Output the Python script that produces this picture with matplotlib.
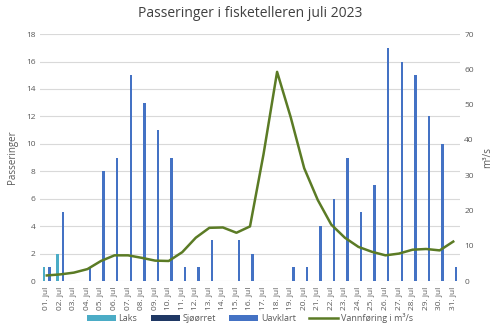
import matplotlib
matplotlib.use("Agg")
import matplotlib.pyplot as plt
import numpy as np

days = [f"{d:02d}. jul" for d in range(1, 32)]
laks = [1, 2] + [0] * 29
sjoorret = [0] * 31
uavklart = [1, 5, 0, 1, 8, 9, 15, 13, 11, 9, 1, 1, 3, 0, 3, 2, 0, 0, 1, 1,
            4, 6, 9, 5, 7, 17, 16, 15, 12, 10, 1]
vannforing = [1.6, 1.9, 2.4, 3.4, 5.7, 7.3, 7.3, 6.6, 5.8, 5.7, 8.2, 12.3,
              15.1, 15.2, 13.7, 15.5, 36.0, 59.3, 46.5, 32.0, 23.0, 16.0,
              12.3, 9.7, 8.3, 7.3, 7.8, 8.9, 9.1, 8.7, 11.2]

plt.rcParams['font.family'] = ['Open Sans', 'DejaVu Sans']
fig = plt.figure(figsize=(5.0, 3.28), dpi=100)
ax = fig.add_axes([0.08, 0.143, 0.84, 0.753])
ax2 = ax.twinx()

x = np.arange(1, 32)
w = 0.18
c_laks = '#4BACC6'
c_sjo = '#1F3864'
c_uav = '#4472C4'
c_line = '#5B7B25'
ax.bar(x - 0.2, laks, w, color=c_laks, label='Laks', zorder=3)
ax.bar(x, sjoorret, w, color=c_sjo, label='Sjøørret', zorder=3)
ax.bar(x + 0.2, uavklart, w, color=c_uav, label='Uavklart', zorder=3)
ax2.plot(x, vannforing, color=c_line, lw=1.8, label='Vannføring i m³/s', zorder=4)

ax.set_xlim(0.5, 31.5)
ax.set_ylim(0, 18)
ax.set_yticks(range(0, 19, 2))
ax2.set_ylim(0, 70)
ax2.set_yticks(range(0, 71, 10))
ax.set_xticks(x)
ax.set_xticklabels(days, rotation=90)
ax.grid(axis='y', color='#D9D9D9', lw=0.8, zorder=0)
for a in (ax, ax2):
    for s in a.spines.values():
        s.set_visible(False)
    a.tick_params(length=0, labelsize=6, labelcolor='#595959', pad=3)
ax.tick_params(axis='x', pad=4)
ax.set_ylabel('Passeringer', fontsize=7, color='#595959', labelpad=6)
ax2.set_ylabel('m³/s', fontsize=7, color='#595959', labelpad=6)
ax.set_title('Passeringer i fisketelleren juli 2023', fontsize=10, color='#404040', pad=12)

h1, l1 = ax.get_legend_handles_labels()
h2, l2 = ax2.get_legend_handles_labels()
fig.legend(h1 + h2, l1 + l2, loc='center', bbox_to_anchor=(0.5, 0.03), ncol=4,
           frameon=False, fontsize=6.5, labelcolor='#595959', handlelength=3.2,
           handleheight=0.5, columnspacing=1.5, handletextpad=0.3)
fig.savefig('out.png', dpi=100)
